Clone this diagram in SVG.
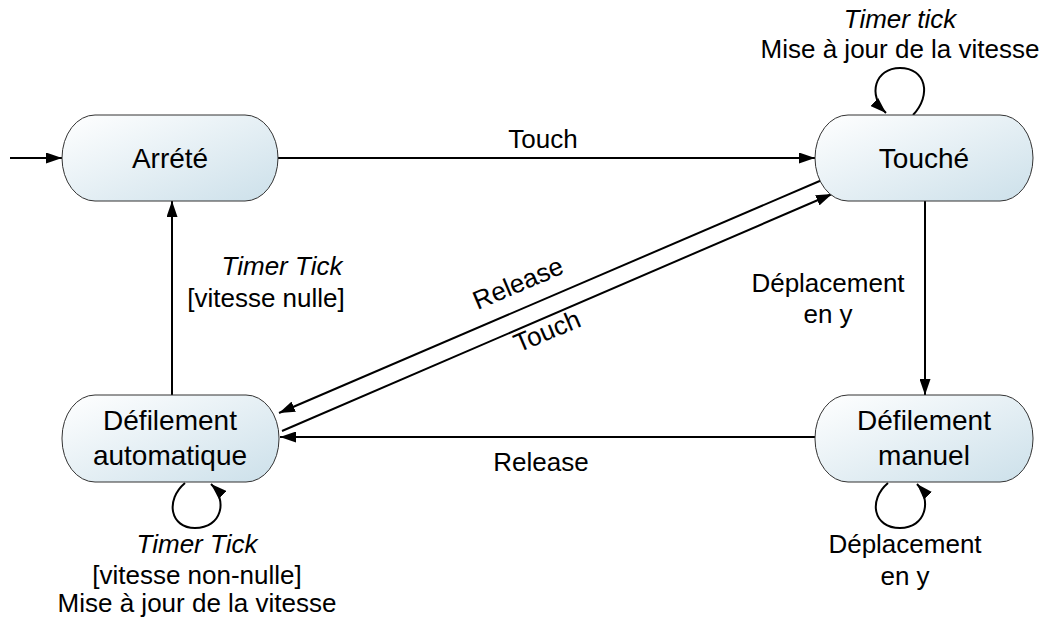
<svg xmlns="http://www.w3.org/2000/svg" width="1055" height="622" viewBox="0 0 1055 622">
<style>
.node rect{fill:url(#g);stroke:#333;stroke-width:1}
text{font-family:"Liberation Sans",Arial,sans-serif;font-size:26px;fill:#000;text-anchor:middle}
.node text{font-size:28px}
.it{font-style:italic}
.edge{fill:none;stroke:#000;stroke-width:2}
</style>
<defs>
<linearGradient id="g" x1="0" y1="0" x2="1" y2="1">
<stop offset="0" stop-color="#ffffff"/>
<stop offset="1" stop-color="#cce0ea"/>
</linearGradient>
<marker id="arr" viewBox="0 0 16 11" refX="16" refY="5.5" markerWidth="16" markerHeight="11" orient="auto" markerUnits="userSpaceOnUse">
<path d="M0,0 L16,5.5 L0,11 z" fill="#000"/>
</marker>
</defs>
<g id="connectors">
<path class="edge" d="M10,158 L62,158" marker-end="url(#arr)"/>
<path class="edge" d="M278,158 L815,158" marker-end="url(#arr)"/>
<path class="edge" d="M925,201 L925,395" marker-end="url(#arr)"/>
<path class="edge" d="M815,437 L280,437" marker-end="url(#arr)"/>
<path class="edge" d="M172,395 L172,201" marker-end="url(#arr)"/>
<path class="edge" d="M822,180 L279,413" marker-end="url(#arr)"/>
<path class="edge" d="M282,431 L832,194" marker-end="url(#arr)"/>
<path class="edge" d="M913,115 C932,95 926,68 900,68 C875,68 867,95 886,113" marker-end="url(#arr)"/>
<path class="edge" d="M185,483 C165,500 170,528 195,528 C222,528 228,500 211,484" marker-end="url(#arr)"/>
<path class="edge" d="M888,483 C868,500 873,528 900,528 C926,528 932,500 917,484" marker-end="url(#arr)"/>
<text x="543" y="148">Touch</text>
<text x="541" y="471">Release</text>
<text x="828" y="292">Déplacement</text>
<text x="828" y="323">en y</text>
<text class="it" x="282" y="275">Timer Tick</text>
<text x="266" y="307">[vitesse nulle]</text>
<text transform="translate(518,283) rotate(-23)" y="9">Release</text>
<text transform="translate(547,331) rotate(-23)" y="9">Touch</text>
<text class="it" x="900" y="28">Timer tick</text>
<text x="900" y="58">Mise à jour de la vitesse</text>
<text class="it" x="197" y="553">Timer Tick</text>
<text x="197" y="584">[vitesse non-nulle]</text>
<text x="197" y="612">Mise à jour de la vitesse</text>
<text x="905" y="553">Déplacement</text>
<text x="905" y="585">en y</text>
</g>
<g id="arrete" class="node"><rect x="62" y="115" width="216" height="86" rx="33" ry="43"/><text x="170" y="168">Arrété</text></g>
<g id="touche" class="node"><rect x="815" y="115" width="218" height="86" rx="33" ry="43"/><text x="924" y="168">Touché</text></g>
<g id="defil-auto" class="node"><rect x="62" y="395" width="217" height="87" rx="33" ry="43"/><text x="170" y="430">Défilement</text><text x="170" y="465">automatique</text></g>
<g id="defil-manuel" class="node"><rect x="815" y="395" width="218" height="87" rx="33" ry="43"/><text x="924" y="430">Défilement</text><text x="924" y="465">manuel</text></g>
</svg>
